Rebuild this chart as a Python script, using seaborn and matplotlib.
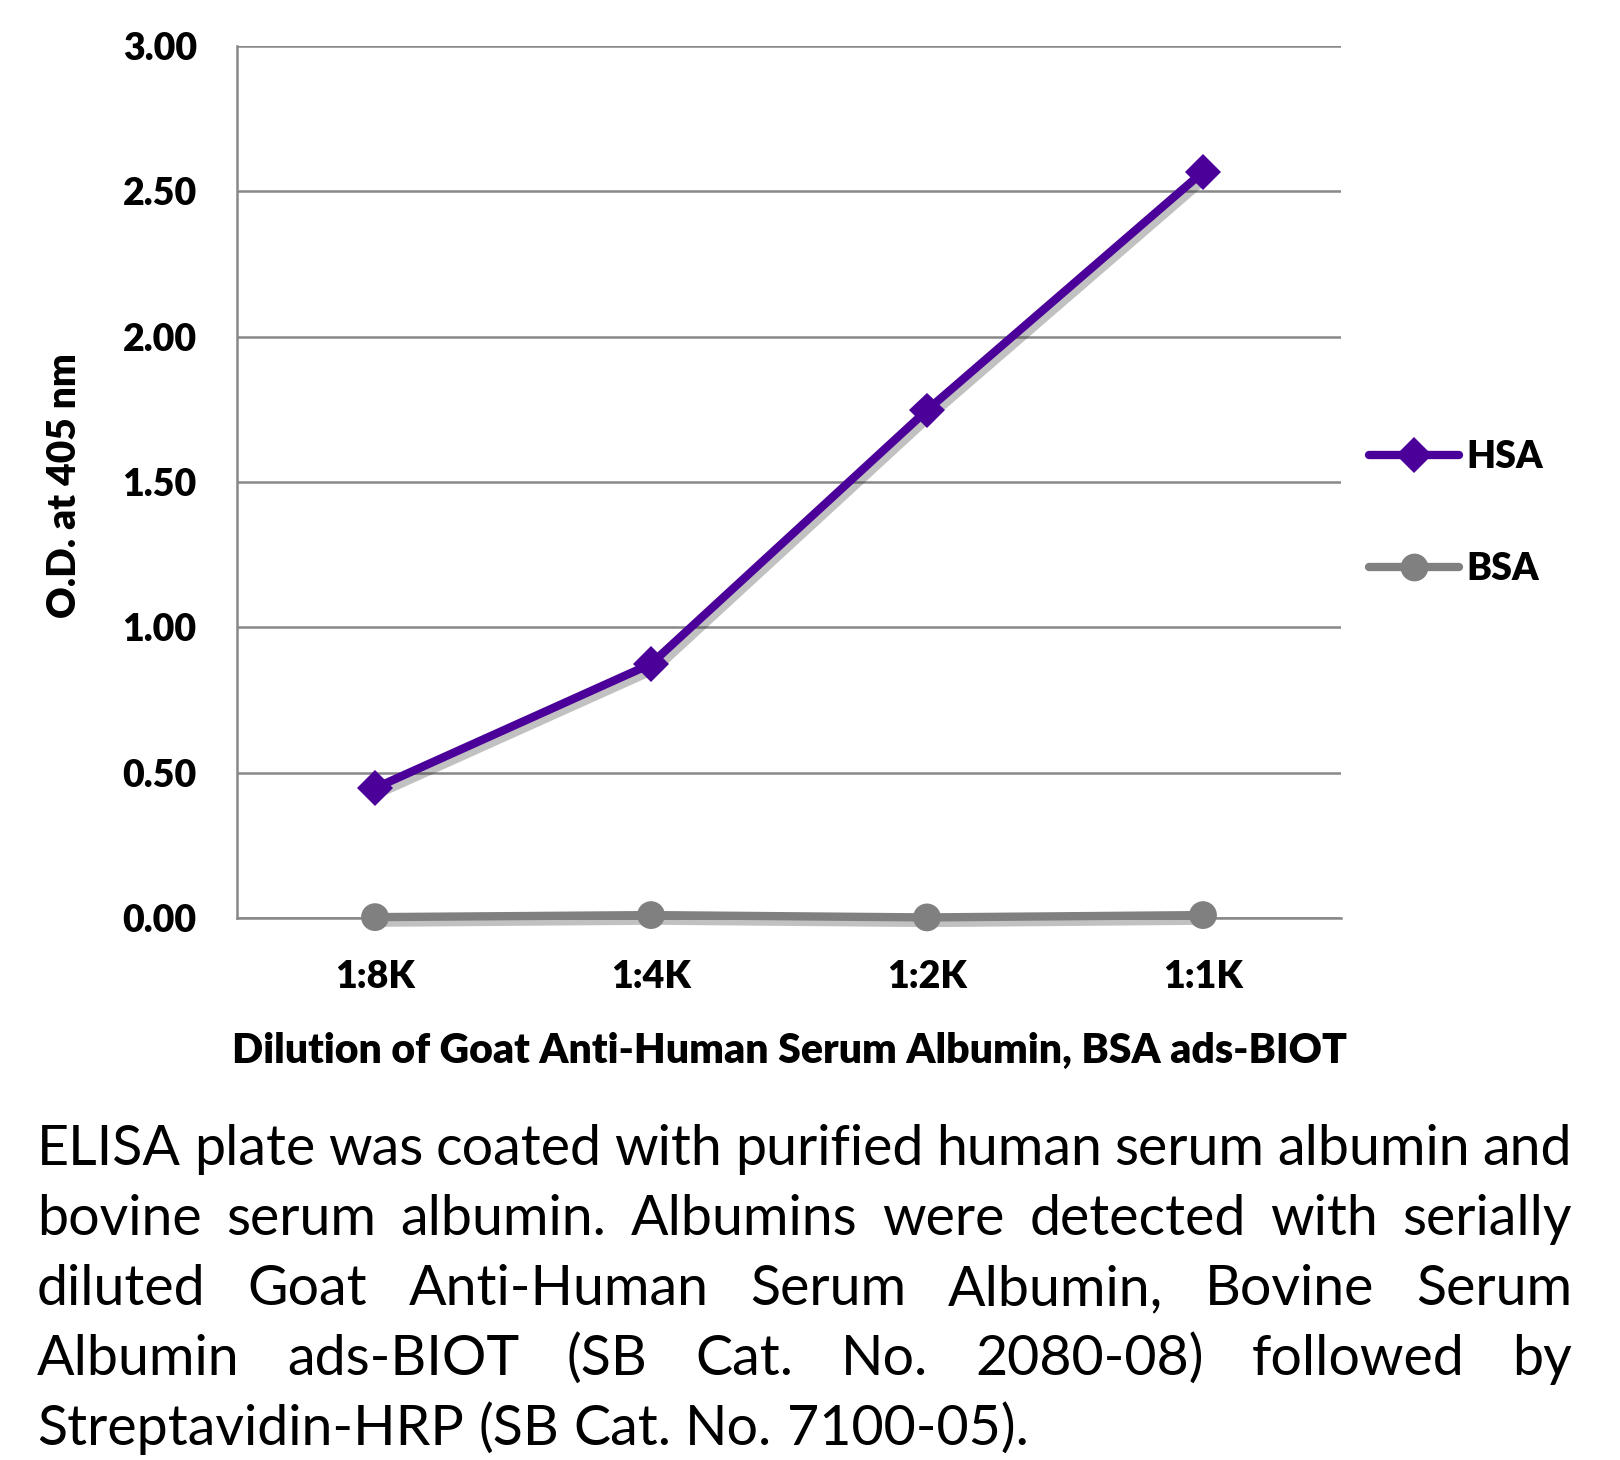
import matplotlib
matplotlib.use("Agg")
import matplotlib.pyplot as plt
import matplotlib.patheffects as pe
from matplotlib.lines import Line2D
import pandas as pd
import seaborn as sns

# data
dilutions = ["1:8K", "1:4K", "1:2K", "1:1K"]
hsa_od = [0.447, 0.874, 1.747, 2.567]
bsa_od = [0.003, 0.010, 0.002, 0.010]
y_ticks = [0.0, 0.5, 1.0, 1.5, 2.0, 2.5, 3.0]
series_names = ["HSA", "BSA"]
colors = {"HSA": "#4a0099", "BSA": "#808080"}
marker_map = {"HSA": "D", "BSA": "o"}
marker_size = {"HSA": 18, "BSA": 20}

caption_lines = [
    "ELISA plate was coated with purified human serum albumin and",
    "bovine serum albumin.  Albumins were detected with serially",
    "diluted Goat Anti-Human Serum Albumin, Bovine Serum",
    "Albumin ads-BIOT (SB Cat. No. 2080-08) followed by",
    "Streptavidin-HRP (SB Cat. No. 7100-05).",
]

sns.set_style("white")
plt.rcParams["font.family"] = ["Lato", "DejaVu Sans"]
plt.rcParams["text.color"] = "black"
plt.rcParams["xtick.labelcolor"] = "black"
plt.rcParams["ytick.labelcolor"] = "black"

df = pd.DataFrame({
    "dilution": dilutions * 2,
    "od": hsa_od + bsa_od,
    "antigen": ["HSA"] * len(dilutions) + ["BSA"] * len(dilutions),
})

W, H = 1620, 1460
fig = plt.figure(figsize=(W / 100, H / 100), dpi=100)
ax = fig.add_axes([237 / W, 1 - 918 / H, (1341 - 237) / W, (918 - 46) / H])

sns.lineplot(data=df, x="dilution", y="od", hue="antigen", style="antigen",
             hue_order=series_names, style_order=series_names,
             markers=marker_map, dashes=False, palette=colors,
             linewidth=6, markeredgewidth=0,
             sort=False, legend=False, ax=ax, zorder=3)

shadow = [pe.SimpleLineShadow(offset=(3, -4), shadow_color="#333333", alpha=0.3),
          pe.Normal()]
for ln, name in zip(ax.lines, series_names):
    ln.set_markersize(marker_size[name])
    ln.set_markeredgewidth(0)
    ln.set_path_effects(shadow)
    ln.set_clip_on(False)

grid_c = "#888888"
ax.set_xlim(-0.5, len(dilutions) - 0.5)
ax.set_ylim(0, 3.0)
ax.set_yticks(y_ticks)
ax.set_yticklabels([f"{v:.2f}" for v in y_ticks])
ax.set_xticks(range(len(dilutions)))
ax.set_xticklabels(dilutions)
ax.set_xticks([i - 0.5 for i in range(len(dilutions) + 1)], minor=True)

ax.grid(axis="y", color=grid_c, linewidth=1.8)
ax.grid(axis="x", visible=False)
ax.set_axisbelow(True)
for s in ["top", "right"]:
    ax.spines[s].set_visible(False)
for s in ["left", "bottom"]:
    ax.spines[s].set_color(grid_c)
    ax.spines[s].set_linewidth(1.8)

ax.tick_params(axis="y", which="major", direction="out", length=9, width=1.8,
               color=grid_c, pad=20, labelsize=27)
ax.tick_params(axis="x", which="major", length=0, pad=30, labelsize=27)
ax.tick_params(axis="x", which="minor", direction="out", length=9, width=1.8,
               color=grid_c)
for lbl in ax.get_xticklabels() + ax.get_yticklabels():
    lbl.set_fontweight("heavy")

ax.set_xlabel("")
ax.set_ylabel("")
fig.text(64 / W, 1 - 486 / H, "O.D. at 405 nm", rotation=90, ha="center",
         va="center", fontsize=28, fontweight="heavy")
fig.text(790 / W, 1 - 1051 / H, "Dilution of Goat Anti-Human Serum Albumin, BSA ads-BIOT",
         ha="center", va="center", fontsize=29.5, fontweight="heavy")

handles = [Line2D([], [], color=colors[n], marker=marker_map[n], linewidth=6,
                  markersize=marker_size[n], markeredgewidth=0, solid_capstyle="round")
           for n in series_names]
leg = fig.legend(handles, series_names, loc="center left",
                 bbox_to_anchor=(1369 / W, 1 - 513 / H), frameon=False,
                 borderpad=0, borderaxespad=0, handlelength=2.4,
                 handletextpad=0.2, labelspacing=2.1,
                 prop={"size": 27, "weight": "heavy"})

# justified caption
fig.canvas.draw()
renderer = fig.canvas.get_renderer()
left, right = 37, 1572
baselines = [1165, 1235, 1305, 1375, 1445]
fs = 40
for i, (line, yb) in enumerate(zip(caption_lines, baselines)):
    words = [w for w in line.split(" ") if w]
    texts, widths = [], []
    for w in words:
        t = fig.text(0, 1 - yb / H, w, fontsize=fs, va="baseline", ha="left")
        texts.append(t)
        widths.append(t.get_window_extent(renderer).width)
    probe1 = fig.text(0, 0, "a b", fontsize=fs)
    probe2 = fig.text(0, 0, "ab", fontsize=fs)
    space = probe1.get_window_extent(renderer).width - probe2.get_window_extent(renderer).width
    probe1.remove()
    probe2.remove()
    if i < len(caption_lines) - 1 and len(words) > 1:
        gap = (right - left - sum(widths)) / (len(words) - 1)
    else:
        gap = space
    x = left
    for t, w in zip(texts, widths):
        t.set_x(x / W)
        x += w + gap

fig.savefig("out.png", dpi=100, facecolor="white")
